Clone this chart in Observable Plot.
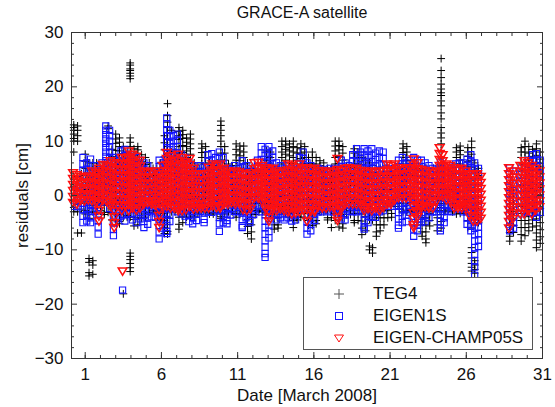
<!DOCTYPE html>
<html><head><meta charset="utf-8">
<script src="https://cdn.jsdelivr.net/npm/d3@7"></script>
<script src="https://cdn.jsdelivr.net/npm/@observablehq/plot@0.6"></script>
<style>
html,body{margin:0;padding:0;background:#fff;}
#wrap{position:relative;width:555px;height:407px;font-family:"Liberation Sans",Arial,sans-serif;color:#111;}
#wrap svg{position:absolute;left:0;top:0;}
#legend{position:absolute;left:303px;top:277px;width:228px;height:71px;border:1px solid #555;background:#fff;}
#legend .row{position:absolute;left:0;width:228px;height:22px;}
#legend .row svg{position:absolute;left:29px;top:5px;}
#legend .row span{position:absolute;left:69px;top:1px;font-size:17px;line-height:20px;white-space:nowrap;}
</style></head>
<body><div id="wrap"></div>
<script>
const title = "GRACE-A satellite";
const xLabel = "Date [March 2008]";
const yLabel = "residuals [cm]";
const seriesNames = ["TEG4", "EIGEN1S", "EIGEN-CHAMP05S"];
const xMajor = [1, 6, 11, 16, 21, 26, 31];
const xMinor = [1,2,3,4,5,6,7,8,9,10,11,12,13,14,15,16,17,18,19,20,21,22,23,24,25,26,27,28,29,30,31];
const yMajor = [-30, -20, -10, 0, 10, 20, 30];
const yMinor = [-28,-26,-24,-22,-18,-16,-14,-12,-8,-6,-4,-2,2,4,6,8,12,14,16,18,22,24,26,28];

// each column: [day, residual values...]
const teg4 = [
[0.25,13,12.5,12,11.3,10.5,10,8,3,1.7,0.4,-0.9,-2.2,-3],
[0.5,12.8,12,11,10,3.5,2.2,0.9,-0.4,-1.7,-3,-6.9],
[0.75,4,2.7,1.4,0.1,-1.2,-2.5,-6.9],
[1.0,7.6,6.3,5,3.7,2.4,1.1,-0.2,-1.5,-2.8,-3.4],
[1.25,6,4.7,3.4,2.1,0.8,-0.5,-1.8,-3.1,-4.2,-11.6,-12.3,-14.2,-14.8],
[1.5,6,4.7,3.4,2.1,0.8,-0.5,-1.8,-3,-12,-12.8,-14.5],
[1.75,6,4.7,3.4,2.1,0.8,-0.5,-1.8,-3.1],
[2.0,5,3.7,2.4,1.1,-0.2,-1.5,-2.8],
[2.25,6,4.7,3.4,2.1,0.8,-0.5,-1.8,-3.1,-3.5],
[2.5,12.8,12.3,6,4.7,3.4,2.1,0.8,-0.5,-1.8,-3.1],
[2.75,8.5,7.2,5.9,4.6,3.3,2,0.7,-0.6,-1.9,-3.2,-4.5],
[3.0,11.3,10.4,9.6,8.3,7,5.7,4.4,3.1,1.8,0.5,-0.8,-2.1,-3.4,-4.5],
[3.25,10.6,9.8,9,8.2,6.9,5.6,4.3,3,1.7,0.4,-0.9,-2.2,-3.5,-4.8,-5.2],
[3.5,9,7.7,6.4,5.1,3.8,2.5,1.2,-0.1,-1.4,-2.7,-4,-18.1],
[3.75,8,6.7,5.4,4.1,2.8,1.5,0.2,-1.1,-2.4,-3.7,-4],
[3.95,24.4,24,23.3,23,22.5,22,21.5,10.6,9.8,9,7.7,6.4,5.1,3.8,2.5,1.2,-0.1,-1.4,-2.7,-4,-10.6,-11.2,-11.8,-12.5,-13.3,-14],
[4.2,8.6,7.3,6,4.7,3.4,2.1,0.8,-0.5,-1.8,-3.1,-4.4,-5.6],
[4.45,9,8.4,7.6,6.3,5,3.7,2.4,1.1,-0.2,-1.5,-2.8,-4.1,-5.4],
[4.7,7.5,6.2,4.9,3.6,2.3,1,-0.3,-1.6,-2.9,-4.2],
[4.95,7,5.7,4.4,3.1,1.8,0.5,-0.8,-2.1,-3.4,-4],
[5.2,6,4.7,3.4,2.1,0.8,-0.5,-1.8,-3.1],
[5.45,5,3.7,2.4,1.1,-0.2,-1.5,-2.8],
[5.7,5,3.7,2.4,1.1,-0.2,-1.5,-2.8,-3],
[5.95,6,4.7,3.4,2.1,0.8,-0.5,-1.8,-3.1,-4.4],
[6.2,11,9.7,8.4,7.1,5.8,4.5,3.2,1.9,0.6,-0.7,-2,-3.3,-4.6,-5.9,-7],
[6.4,16.9,14.7,13.5,12.5,11.6,10.3,9,7.7,6.4,5.1,3.8,2.5,1.2,-0.1,-1.4,-2.7,-4,-5.3,-6.6,-7.1],
[6.65,12,8,6.7,5.4,4.1,2.8,1.5,0.2,-1.1,-2.4,-3],
[6.9,8,6.7,5.4,4.1,2.8,1.5,0.2,-1.1,-2.4,-3],
[7.15,12.5,11.8,11,10.3,9,7.7,6.4,5.1,3.8,2.5,1.2,-0.1,-1.4,-2.7,-4,-5.3,-6.2],
[7.4,12,11.2,10.5,9.2,7.9,6.6,5.3,4,2.7,1.4,0.1,-1.2,-2.5,-3.8,-5],
[7.65,10.6,9.8,9,8.2,7,5.7,4.4,3.1,1.8,0.5,-0.8,-2.1,-3.4,-4],
[7.9,11.3,10.4,9.5,8.6,7.6,6.3,5,3.7,2.4,1.1,-0.2,-1.5,-2.8,-4],
[8.15,6,4.7,3.4,2.1,0.8,-0.5,-1.8,-3.1,-3.8],
[8.4,5,3.7,2.4,1.1,-0.2,-1.5,-2.8,-3.4],
[8.65,9.5,8.7,7.9,7,5.8,4.5,3.2,1.9,0.6,-0.7,-2,-3],
[8.9,9,8,7,5.8,4.5,3.2,1.9,0.6,-0.7,-2,-3],
[9.15,6,4.7,3.4,2.1,0.8,-0.5,-1.8,-3.1,-3.4],
[9.4,5.5,4.2,2.9,1.6,0.3,-1,-2.3,-3.4],
[9.65,6,4.7,3.4,2.1,0.8,-0.5,-1.8,-3.1],
[9.9,13.7,12.9,12,11,10,9,7.8,6.5,5.2,3.9,2.6,1.3,0,-1.3,-2.6,-3.9,-4.2],
[10.15,9,7.8,6.5,5.2,3.9,2.6,1.3,0,-1.3,-2.6,-3.4],
[10.4,5.8,4.5,3.3,2,0.7,-0.6,-1.9,-3],
[10.65,5.5,4.2,2.9,1.6,0.3,-1,-2.3,-3],
[10.9,9.5,8.5,7.5,6.5,5.5,4.5,3.2,1.9,0.6,-0.7,-2,-3.3,-4],
[11.15,9.1,8.2,7.3,6.4,5,3.7,2.4,1.1,-0.2,-1.5,-2.8,-3.5],
[11.4,9.1,8,7,5.8,4.5,3.2,1.9,0.6,-0.7,-2,-3],
[11.65,6,4.7,3.4,2.1,0.8,-0.5,-1.8,-3.1,-4.4,-5.7,-7],
[11.9,5,3.7,2.4,1.1,-0.2,-1.5,-2.8,-4.1,-5.4,-6.7,-8],
[12.15,5,3.7,2.4,1.1,-0.2,-1.5,-2.8,-3.5],
[12.4,4,2.7,1.4,0.1,-1.2,-2.5,-3],
[12.65,5,3.7,2.4,1.1,-0.2,-1.5,-2.8,-3],
[12.9,8.2,7.2,6.4,5.1,3.8,2.5,1.2,-0.1,-1.4,-2.7,-3],
[13.15,8,7,5.8,4.5,3.2,1.9,0.6,-0.7,-2,-3.3],
[13.4,5,3.7,2.4,1.1,-0.2,-1.5,-2.8,-4.1,-5.4,-6.2],
[13.65,5,3.7,2.4,1.1,-0.2,-1.5,-2.8,-4.1,-5.4,-6],
[13.9,10,9,8,7,5.8,4.5,3.2,1.9,0.6,-0.7,-2,-3],
[14.15,10,9.3,8.5,7.6,6.5,5.2,3.9,2.6,1.3,0,-1.3,-2.6,-3.3],
[14.4,9.5,8.8,8.2,7.3,6,4.7,3.4,2.1,0.8,-0.5,-1.8,-3.1,-4],
[14.65,10,9,8,7,5.8,4.5,3.2,1.9,0.6,-0.7,-2,-3.3,-4.6,-5.9],
[14.9,8.8,7.8,6.5,5.2,3.9,2.6,1.3,0,-1.3,-2.6,-3.9,-4.5],
[15.15,9.5,8.6,7.8,6.8,5.8,4.5,3.2,1.9,0.6,-0.7,-2,-3.3,-4],
[15.4,9,8,7,5.8,4.5,3.2,1.9,0.6,-0.7,-2,-3.3,-4],
[15.65,7,5.8,4.5,3.2,1.9,0.6,-0.7,-2,-3.3,-4.6,-5.5],
[15.9,8,7,5.8,4.5,3.2,1.9,0.6,-0.7,-2,-3.3,-4.6,-5.5],
[16.15,7,5.8,4.5,3.2,1.9,0.6,-0.7,-2,-3.3,-4.6,-5.2],
[16.4,6.4,5.5,4.5,3.2,1.9,0.6,-0.7,-2,-3],
[16.65,6,4.7,3.4,2.1,0.8,-0.5,-1.8,-3],
[16.9,5,3.7,2.4,1.1,-0.2,-1.5,-2.8,-4.1,-4.5],
[17.15,5,3.7,2.4,1.1,-0.2,-1.5,-2.8,-4.1,-5.9],
[17.4,10,9.1,8.2,7,5.8,4.5,3.2,1.9,0.6,-0.7,-2,-3.3,-4.6],
[17.65,10,9.2,8.4,7.2,5.9,4.6,3.3,2,0.7,-0.6,-1.9,-3.2,-4.5,-5.8],
[17.9,9,7.8,6.5,5.2,3.9,2.6,1.3,0,-1.3,-2.6,-3.9,-5.2,-6],
[18.15,5.5,4.2,2.9,1.6,0.3,-1,-2.3,-3.5],
[18.4,5,3.7,2.4,1.1,-0.2,-1.5,-2.8,-3.5],
[18.65,8.6,7.8,7,5.8,4.5,3.2,1.9,0.6,-0.7,-2,-3.3,-4.6,-5],
[18.9,8,7,5.8,4.5,3.2,1.9,0.6,-0.7,-2,-3.3,-4.6],
[19.15,7,5.7,4.4,3.1,1.8,0.5,-0.8,-2.1,-3.4,-4.7,-6,-7.2],
[19.4,6.5,5.2,3.9,2.6,1.3,0,-1.3,-2.6,-3.9,-5.2,-6.5],
[19.65,6,4.7,3.4,2.1,0.8,-0.5,-1.8,-3.1,-4.4,-9.3,-10],
[19.85,5.5,4.2,2.9,1.6,0.3,-1,-2.3,-3.6,-4.5,-9.6,-10.6],
[20.1,5,3.7,2.4,1.1,-0.2,-1.5,-2.8,-4.1,-5.4,-6.7,-7.5],
[20.35,5,3.7,2.4,1.1,-0.2,-1.5,-2.8,-4.1,-5.4,-6.5],
[20.6,5,3.7,2.4,1.1,-0.2,-1.5,-2.8,-4.1,-5.4],
[20.85,5,3.7,2.4,1.1,-0.2,-1.5,-2.8,-4.1],
[21.1,4.5,3.2,1.9,0.6,-0.7,-2,-3.3,-4],
[21.35,5,3.7,2.4,1.1,-0.2,-1.5,-2],
[21.6,5,3.7,2.4,1.1,-0.2,-1.5,-2.5],
[21.85,9.5,8.7,7.9,7,5.8,4.5,3.2,1.9,0.6,-0.7,-2,-3],
[22.1,9,8,7,6.4,5.1,3.8,2.5,1.2,-0.1,-1.4,-2.7,-3],
[22.35,5,3.7,2.4,1.1,-0.2,-1.5,-2.8,-3],
[22.6,5,3.7,2.4,1.1,-0.2,-1.5,-2.8,-3],
[22.85,5,3.7,2.4,1.1,-0.2,-1.5,-2.8,-3.3],
[23.1,5,3.7,2.4,1.1,-0.2,-1.5,-2.8,-4.1,-5.4,-6.7,-7.5],
[23.35,5,3.7,2.4,1.1,-0.2,-1.5,-2.8,-4.1,-5.4,-6.7,-8,-8.7],
[23.6,4.5,3.2,1.9,0.6,-0.7,-2,-3.3,-4.6,-5.6],
[23.85,5,3.7,2.4,1.1,-0.2,-1.5,-2.8,-3],
[24.1,5,3.7,2.4,1.1,-0.2,-1.5,-2.8,-4.1,-5.4,-6.5],
[24.35,25.2,23,21.7,20.5,19.6,18.9,18.4,17.4,16.5,15.2,14.1,12.5,11.5,10.6,9.5,8.2,6.9,5.6,4.3,3,1.7,0.4,-0.9,-2.2,-3.5,-4.8,-6],
[24.6,5,3.7,2.4,1.1,-0.2,-1.5,-2.8,-3],
[24.85,5,3.7,2.4,1.1,-0.2,-1.5,-2.5],
[25.1,5,3.7,2.4,1.1,-0.2,-1.5,-2.8,-3],
[25.35,8.8,8,7,5.8,4.5,3.2,1.9,0.6,-0.7,-2,-3.4],
[25.6,9.1,8.3,7.5,6.5,5.8,4.5,3.2,1.9,0.6,-0.7,-2,-3.3],
[25.85,5,3.7,2.4,1.1,-0.2,-1.5,-2.8,-3],
[26.1,8.8,8,7.2,6.3,5.4,4.5,3.2,1.9,0.6,-0.7,-2,-3.3,-4.6,-5.9],
[26.35,10,8.8,7.6,6.4,5.2,4,2.7,1.4,0.1,-1.2,-2.5,-3.8,-5.1,-6,-9.6,-10.5,-11.5,-12.5,-13.2,-13.9],
[26.55,6,4.7,3.4,2.1,0.8,-0.5,-1.8,-3.1,-4.4,-12,-12.8,-13.6,-14.3],
[26.8,5,3.7,2.4,1.1,-0.2,-1.5,-2.8,-4.1,-5],
[28.85,1,-0.3,-1.6,-2.9,-4.2,-5.5,-6.8,-7.5,-8.4],
[29.1,1,-0.3,-1.6,-2.9,-4.2,-5.5,-6.8],
[29.6,8.8,8,7,5.8,4.5,3.2,1.9,0.6,-0.7,-2,-3.3,-4.6,-5.9,-7.2,-8.4],
[29.85,10,9,8,7,5.8,4.5,3.2,1.9,0.6,-0.7,-2,-3.3,-4.6,-5.9,-7.4],
[30.1,9,7.8,6.5,5.2,3.9,2.6,1.3,0,-1.3,-2.6,-3.9,-5.2,-6.5],
[30.35,8.5,7.2,5.9,4.6,3.3,2,0.7,-0.6,-1.9,-3.2,-4.5,-5.8],
[30.6,9.5,8.6,7.4,6.1,4.8,3.5,2.2,0.9,-0.4,-1.7,-3,-4.3,-5.6,-6.9,-8.2,-9.6],
[30.85,8,6.7,5.4,4.1,2.8,1.5,0.2,-1.1,-2.4,-3.7,-5,-6.3,-7.6,-8.8]
];

const eigen1s = [
[0.3,2,0.8,-0.4,-1.6,-2],
[0.55,1.5,0.3,-0.9,-2.1],
[0.85,7,5.8,4.6,3.4,2.2,1,-0.2,-1.4,-2.6,-3.8,-5],
[1.1,6,4.8,3.6,2.4,1.2,0,-1.2,-2.4,-3.6,-4.7],
[1.35,6.7,5.5,4.3,3.1,1.9,0.7,-0.5,-1.7,-2.9,-4.1,-5],
[1.6,5.5,4.3,3.1,1.9,0.7,-0.5,-1.7,-2.9],
[1.85,5,3.8,2.6,1.4,0.2,-1,-2.2,-3.4,-4.6,-5.8,-7.1],
[2.1,6,4.8,3.6,2.4,1.2,0,-1.2],
[2.35,12.8,12,11.2,10.4,9.6,8.8,8,7.2,6.4,5.6,4.8,4,2.8,1.6,0.4,-0.8],
[2.6,12,11,10,9,8,7,6,4.8,3.6,2.4,1.2,0,-1.2,-2.4],
[2.85,7,5.8,4.6,3.4,2.2,1,-0.2,-1.4,-2.6,-3.8,-5,-6.2,-7.4],
[3.1,6.5,5.3,4.1,2.9,1.7,0.5,-0.7,-1.9,-3.1,-4.3],
[3.35,8.2,7,5.8,4.6,3.4,2.2,1,-0.2,-1.4,-2.6,-3.8],
[3.45,-17.4],
[3.6,8.5,7.3,6.1,4.9,3.7,2.5,1.3,0.1,-1.1,-2.3,-3.5,-4.7],
[3.85,7.5,6.3,5.1,3.9,2.7,1.5,0.3,-0.9,-2.1,-3.3],
[4.1,7.5,6.3,5.1,3.9,2.7,1.5,0.3,-0.9,-2.1,-3.3,-4.5],
[4.35,7,5.8,4.6,3.4,2.2,1,-0.2,-1.4,-2.6,-3.8,-5],
[4.6,6.5,5.3,4.1,2.9,1.7,0.5,-0.7,-1.9,-3.1,-4.3],
[4.85,6,4.8,3.6,2.4,1.2,0,-1.2,-2.4,-3.6,-4.8,-5.9],
[5.1,5.5,4.3,3.1,1.9,0.7,-0.5,-1.7,-2.9,-4.1,-5.3],
[5.35,4.5,3.3,2.1,0.9,-0.3,-1.5,-2.7,-3.9],
[5.6,4,2.8,1.6,0.4,-0.8,-2,-3.2,-4],
[5.85,6.5,5.3,4.1,2.9,1.7,0.5,-0.7,-1.9,-3.1,-4.3,-5.5,-6.7,-8],
[6.1,6,4.8,3.6,2.4,1.2,0,-1.2,-2.4,-3.6,-4.8,-6],
[6.35,14.3,13.2,12.1,11,9.9,8.8,7.7,6.6,5.5,4.4,3.3,2.2,1.1,0,-1.1,-2.2,-3.3,-4.4,-5.5,-6.6,-7],
[6.55,12,10.8,9.6,8.4,7.2,6,4.8,3.6,2.4,1.2,0,-1.2,-2.4,-3.6,-4.8],
[6.8,11,10,9,7.8,6.6,5.4,4.2,3,1.8,0.6,-0.6,-1.8],
[7.05,11.3,10.2,9,7.8,6.6,5.4,4.2,3,1.8,0.6,-0.6,-1.8,-3],
[7.3,7.5,6.3,5.1,3.9,2.7,1.5,0.3,-0.9,-2.1,-3.4],
[7.55,7,5.8,4.6,3.4,2.2,1,-0.2,-1.4,-2.6,-3.8],
[7.8,6,4.8,3.6,2.4,1.2,0,-1.2,-2.4,-3.6,-4.8],
[8.05,5.5,4.3,3.1,1.9,0.7,-0.5,-1.7,-2.9,-4.1,-5.2],
[8.3,5,3.8,2.6,1.4,0.2,-1,-2.2,-3.4,-4.6],
[8.55,5.5,4.3,3.1,1.9,0.7,-0.5,-1.7,-2.9],
[8.8,5.2,4,2.8,1.6,0.4,-0.8,-2,-3.2,-4.4,-5],
[9.05,7.5,6.3,5.1,3.9,2.7,1.5,0.3,-0.9,-2.1,-3],
[9.3,7.7,6.5,5.3,4.1,2.9,1.7,0.5,-0.7,-1.9,-3.1],
[9.55,7,5.8,4.6,3.4,2.2,1,-0.2,-1.4,-2.6],
[9.8,8,6.8,5.6,4.4,3.2,2,0.8,-0.4,-1.6,-2.8,-4,-5.2,-6.6],
[10.05,7,5.8,4.6,3.4,2.2,1,-0.2,-1.4,-2.6,-3.8,-5],
[10.3,5,3.8,2.6,1.4,0.2,-1,-2.2,-3.4,-4.6,-5.2],
[10.55,4.8,3.6,2.4,1.2,0,-1.2,-2.4,-3.6],
[10.8,5.5,4.3,3.1,1.9,0.7,-0.5,-1.7,-2.9],
[11.05,5,3.8,2.6,1.4,0.2,-1,-2.2,-3],
[11.3,6.4,5.2,4,2.8,1.6,0.4,-0.8,-2,-3.2,-4.4,-5.6,-5.9],
[11.55,5.5,4.3,3.1,1.9,0.7,-0.5,-1.7,-2.9,-4.1],
[11.8,5,3.8,2.6,1.4,0.2,-1,-2.2,-3.4,-4.6,-5],
[12.05,4.5,3.3,2.1,0.9,-0.3,-1.5,-2.7,-3.5],
[12.3,6.5,5.3,4.1,2.9,1.7,0.5,-0.7,-1.9],
[12.55,9,7.8,6.6,5.4,4.2,3,1.8,0.6,-0.6,-1.8,-3],
[12.8,8.5,7.3,6.1,4.9,3.7,2.5,1.3,0.1,-1.1,-2.3,-3.5,-4.7,-5.9,-7.1,-8.3,-9.5,-10.7,-11.4],
[13.05,9,7.8,6.6,5.4,4.2,3,1.8,0.6,-0.6,-1.8,-3,-4.2,-5.4,-6.6,-7.8],
[13.3,8.2,7,5.8,4.6,3.4,2.2,1,-0.2,-1.4,-2.6,-3.5],
[13.55,6,4.8,3.6,2.4,1.2,0,-1.2,-2.4,-3.6,-4.5],
[13.8,5.5,4.3,3.1,1.9,0.7,-0.5,-1.7,-2.9,-4.1],
[14.05,5,3.8,2.6,1.4,0.2,-1,-2.2,-3.4,-4.5],
[14.3,5.5,4.3,3.1,1.9,0.7,-0.5,-1.7,-2.9,-4.1],
[14.55,5,3.8,2.6,1.4,0.2,-1,-2.2,-3.4,-4.7],
[14.8,4.8,3.6,2.4,1.2,0,-1.2,-2.4,-3.6,-4.5],
[15.05,7,5.8,4.6,3.4,2.2,1,-0.2,-1.4,-2.6],
[15.3,8,6.8,5.6,4.4,3.2,2,0.8,-0.4,-1.6,-2.5],
[15.55,6,4.8,3.6,2.4,1.2,0,-1.2,-2.4,-3.6,-4.8,-6,-7.1],
[15.8,5.5,4.3,3.1,1.9,0.7,-0.5,-1.7,-2.9,-4.1,-5.3,-6.5],
[16.05,5,3.8,2.6,1.4,0.2,-1,-2.2,-3.4,-4.6],
[16.3,5,3.8,2.6,1.4,0.2,-1,-2.2,-3],
[16.55,4.8,3.6,2.4,1.2,0,-1.2,-2.4,-3],
[16.8,4.5,3.3,2.1,0.9,-0.3,-1.5,-2.7],
[17.05,5,3.8,2.6,1.4,0.2,-1,-2.2,-3],
[17.3,4.8,3.6,2.4,1.2,0,-1.2,-2.4,-3],
[17.55,5,3.8,2.6,1.4,0.2,-1,-2.2,-3.4],
[17.8,6.5,5.3,4.1,2.9,1.7,0.5,-0.7,-1.9,-3.1,-4.3],
[18.05,6,4.8,3.6,2.4,1.2,0,-1.2,-2.4,-3.6,-4.5],
[18.3,5.5,4.3,3.1,1.9,0.7,-0.5,-1.7,-2.9],
[18.55,7.5,6.3,5.1,3.9,2.7,1.5,0.3,-0.9,-2.1,-3],
[18.8,8.6,7.4,6.2,5,3.8,2.6,1.4,0.2,-1,-2.2,-3],
[19.05,8,6.8,5.6,4.4,3.2,2,0.8,-0.4,-1.6,-2.8],
[19.3,8.6,7.4,6.2,5,3.8,2.6,1.4,0.2,-1,-2.2,-3.4,-4.6,-5.8,-6.2],
[19.55,8.2,7,5.8,4.6,3.4,2.2,1,-0.2,-1.4,-2.6,-3.8,-5],
[19.8,8.6,7.4,6.2,5,3.8,2.6,1.4,0.2,-1,-2.2,-3.4,-4],
[20.05,7.8,6.6,5.4,4.2,3,1.8,0.6,-0.6,-1.8,-3,-4],
[20.3,8.2,7,5.8,4.6,3.4,2.2,1,-0.2,-1.4,-2.6,-3],
[20.55,8,6.8,5.6,4.4,3.2,2,0.8,-0.4,-1.6,-2.8],
[20.8,5,3.8,2.6,1.4,0.2,-1,-2],
[21.05,4.8,3.6,2.4,1.2,0,-1.2,-2],
[21.3,5,3.8,2.6,1.4,0.2,-1,-2],
[21.55,6.5,5.3,4.1,2.9,1.7,0.5,-0.7,-1.9,-3.1,-4.3,-5.5,-6],
[21.8,7,5.8,4.6,3.4,2.2,1,-0.2,-1.4,-2.6,-3.8,-5],
[22.05,6,4.8,3.6,2.4,1.2,0,-1.2,-2.4,-3.6,-4.8],
[22.3,6.5,5.3,4.1,2.9,1.7,0.5,-0.7,-1.9,-3.1],
[22.55,7,5.8,4.6,3.4,2.2,1,-0.2,-1.4,-2.6,-3.8,-5,-6.2,-7.5],
[22.8,6.5,5.3,4.1,2.9,1.7,0.5,-0.7,-1.9,-3.1,-4.3,-5.5,-6.5],
[23.05,6.5,5.3,4.1,2.9,1.7,0.5,-0.7,-1.9,-3.1,-4.3,-5],
[23.3,6,4.8,3.6,2.4,1.2,0,-1.2,-2.4,-3.6,-4.8],
[23.55,5.5,4.3,3.1,1.9,0.7,-0.5,-1.7,-2.9,-4.1],
[23.8,5,3.8,2.6,1.4,0.2,-1,-2.2,-3],
[24.05,4.8,3.6,2.4,1.2,0,-1.2,-2.4,-3],
[24.3,6,4.8,3.6,2.4,1.2,0,-1.2,-2.4,-3.6,-4.8,-6,-6.5],
[24.55,5.5,4.3,3.1,1.9,0.7,-0.5,-1.7,-2.9,-4.1,-5],
[24.8,5.5,4.3,3.1,1.9,0.7,-0.5,-1.7,-2.9],
[25.05,5,3.8,2.6,1.4,0.2,-1,-2.2,-3],
[25.3,5.8,4.6,3.4,2.2,1,-0.2,-1.5],
[25.55,6,4.8,3.6,2.4,1.2,0,-1.2,-2.5],
[25.8,6,4.8,3.6,2.4,1.2,0,-1.2,-2.4,-3],
[26.05,6.7,5.5,4.3,3.1,1.9,0.7,-0.5,-1.7,-2.9,-4.1,-5.3],
[26.3,7.5,6.3,5.1,3.9,2.7,1.5,0.3,-0.9,-2.1,-3.3,-4.5,-5.7,-6.5],
[26.55,6,4.8,3.6,2.4,1.2,0,-1.2,-2.4,-3.6,-4.8,-6,-7.2,-8.4,-9.6,-10.8,-12,-13.2,-14.7],
[26.8,5,3.8,2.6,1.4,0.2,-1,-2.2,-3.4,-4.6,-5.8,-7,-8.2,-9.4],
[28.85,5.1,3.9,2.7,1.5,0.3,-0.9,-2.1,-3.3,-4.5,-5.7,-6.5],
[29.1,4.5,3.3,2.1,0.9,-0.3,-1.5,-2.7,-3.9,-5.1,-6],
[29.6,5,3.8,2.6,1.4,0.2,-1,-2.2,-3.4],
[29.85,5,3.8,2.6,1.4,0.2,-1,-2.2,-3],
[30.1,6.5,5.3,4.1,2.9,1.7,0.5,-0.7,-1.9,-3.1],
[30.35,7.5,6.3,5.1,3.9,2.7,1.5,0.3,-0.9,-2.1,-3.3],
[30.6,7.7,6.5,5.3,4.1,2.9,1.7,0.5,-0.7,-1.9,-3.1,-4],
[30.85,6.5,5.3,4.1,2.9,1.7,0.5,-0.7,-1.9,-3.1]
];

const eigenChamp05s = [
[0.2,4.2,3.1,2,0.9,-0.2,-1.3],
[0.45,3.8,2.7,1.6,0.5,-0.6,-1.6],
[0.7,3.5,2.4,1.3,0.2,-0.9],
[0.95,3.3,2.2,1.1,0,-1],
[1.2,3.6,2.5,1.4,0.3,-0.8],
[1.45,4.5,3.4,2.3,1.2,0.1,-1],
[1.7,4.2,3.1,2,0.9,-0.2,-1.3],
[1.9,5,3.9,2.8,1.7,0.6,-0.5,-1.6,-2.7,-3.8,-4.7],
[2.15,5.7,4.6,3.5,2.4,1.3,0.2,-0.9],
[2.4,5.4,4.3,3.2,2.1,1,-0.1,-1.1],
[2.65,6.4,5.3,4.2,3.1,2,0.9,-0.2,-1.3,-2],
[2.9,6,4.9,3.8,2.7,1.6,0.5,-0.6,-1.7,-2.8,-3.9,-5,-5.9],
[3.15,5.8,4.7,3.6,2.5,1.4,0.3,-0.8,-1.9],
[3.4,7,5.9,4.8,3.7,2.6,1.5,0.4,-0.7,-1.8,-2.8],
[3.45,-13.9],
[3.65,6.8,5.7,4.6,3.5,2.4,1.3,0.2,-0.9,-2],
[3.85,8.2,7.1,6,4.9,3.8,2.7,1.6,0.5,-0.6,-1.7,-2.8],
[4.1,7.6,6.5,5.4,4.3,3.2,2.1,1,-0.1,-1.2,-2.3],
[4.35,7.2,6.1,5,3.9,2.8,1.7,0.6,-0.5,-1.6,-2.7],
[4.6,6.5,5.4,4.3,3.2,2.1,1,-0.1,-1.2,-2.3],
[4.85,4.5,3.4,2.3,1.2,0.1,-1,-1.6],
[5.1,4.2,3.1,2,0.9,-0.2,-1.3],
[5.35,4.4,3.3,2.2,1.1,0,-1.1,-1.6],
[5.6,4.5,3.4,2.3,1.2,0.1,-1,-1.8],
[5.85,4,2.9,1.8,0.7,-0.4,-1.5,-2.6,-3.7,-4.8,-5.9],
[6.1,5.5,4.4,3.3,2.2,1.1,0,-1.1,-2.2],
[6.35,7.9,6.8,5.7,4.6,3.5,2.4,1.3,0.2,-0.9,-2],
[6.6,7.3,6.2,5.1,4,2.9,1.8,0.7,-0.4,-1.5,-2.3],
[6.85,6.5,5.4,4.3,3.2,2.1,1,-0.1,-1.2,-2.3],
[7.1,7.6,6.5,5.4,4.3,3.2,2.1,1,-0.1,-1.2,-2.3,-2.8],
[7.35,7,5.9,4.8,3.7,2.6,1.5,0.4,-0.7,-1.8,-2.8],
[7.6,6.2,5.1,4,2.9,1.8,0.7,-0.4,-1.5,-2.6],
[7.85,6.8,5.7,4.6,3.5,2.4,1.3,0.2,-0.9,-2],
[8.1,5,3.9,2.8,1.7,0.6,-0.5,-1.6,-2.5],
[8.35,4,2.9,1.8,0.7,-0.4,-1.5,-2.3],
[8.6,3.8,2.7,1.6,0.5,-0.6,-1.7,-2.3],
[8.85,4,2.9,1.8,0.7,-0.4,-1.5,-2.3],
[9.1,5.2,4.1,3,1.9,0.8,-0.3,-1.4,-2.3],
[9.35,5.8,4.7,3.6,2.5,1.4,0.3,-0.8,-1.9],
[9.6,5.5,4.4,3.3,2.2,1.1,0,-1.1,-2.2],
[9.85,5.8,4.7,3.6,2.5,1.4,0.3,-0.8,-1.9,-2.3],
[10.1,5,3.9,2.8,1.7,0.6,-0.5,-1.6],
[10.35,4.5,3.4,2.3,1.2,0.1,-1,-1.6],
[10.6,4.2,3.1,2,0.9,-0.2,-1.3],
[10.85,4.5,3.4,2.3,1.2,0.1,-1,-1.6],
[11.1,4.3,3.2,2.1,1,-0.1,-1.2],
[11.35,4,2.9,1.8,0.7,-0.4,-1.5,-2.6],
[11.6,3.8,2.7,1.6,0.5,-0.6,-1.7,-2.8],
[11.85,4.2,3.1,2,0.9,-0.2,-1.3,-2.4],
[12.1,6,4.9,3.8,2.7,1.6,0.5,-0.4],
[12.35,6.1,5,3.9,2.8,1.7,0.6,-0.5],
[12.6,5.5,4.4,3.3,2.2,1.1,0,-1.1],
[12.85,5.1,4,2.9,1.8,0.7,-0.4,-1.5,-2.5],
[13.05,4.8,3.7,2.6,1.5,0.4,-0.7,-1.8,-2.9,-4,-4.7],
[13.3,5,3.9,2.8,1.7,0.6,-0.5,-1.6,-2.5],
[13.55,4.5,3.4,2.3,1.2,0.1,-1,-2.1,-2.8],
[13.8,4.2,3.1,2,0.9,-0.2,-1.3,-2.4],
[14.05,4.5,3.4,2.3,1.2,0.1,-1,-2.1,-2.8],
[14.3,5.8,4.7,3.6,2.5,1.4,0.3,-0.8,-1.9,-3],
[14.55,5.5,4.4,3.3,2.2,1.1,0,-1.1,-2.2,-3.4],
[14.8,5.2,4.1,3,1.9,0.8,-0.3,-1.4,-2.5,-3.2],
[15.05,5.8,4.7,3.6,2.5,1.4,0.3,-0.8,-1.9,-3],
[15.3,5,3.9,2.8,1.7,0.6,-0.5,-1.6,-2.7],
[15.55,5.1,4,2.9,1.8,0.7,-0.4,-1.5,-2.6,-3.7,-4.7],
[15.8,4.8,3.7,2.6,1.5,0.4,-0.7,-1.8,-2.9],
[16.05,5,3.9,2.8,1.7,0.6,-0.5,-1.6,-2.7,-3],
[16.3,4.6,3.5,2.4,1.3,0.2,-0.9,-2],
[16.55,4.5,3.4,2.3,1.2,0.1,-1,-2.1,-2.3],
[16.8,4.2,3.1,2,0.9,-0.2,-1.3,-2.3],
[17.05,4.5,3.4,2.3,1.2,0.1,-1,-2.1],
[17.3,4.3,3.2,2.1,1,-0.1,-1.2,-2.3],
[17.55,6.8,4.8,3.7,2.6,1.5,0.4,-0.7,-1.8,-2.9,-4,-4.6],
[17.8,4.6,3.5,2.4,1.3,0.2,-0.9,-2,-2.5],
[18.05,5,3.9,2.8,1.7,0.6,-0.5,-1.6],
[18.3,5.1,4,2.9,1.8,0.7,-0.4,-1.5],
[18.55,4.8,3.7,2.6,1.5,0.4,-0.7,-1.6],
[18.8,5,3.9,2.8,1.7,0.6,-0.5,-1.6],
[19.05,4.6,3.5,2.4,1.3,0.2,-0.9,-1.6],
[19.3,4.5,3.4,2.3,1.2,0.1,-1,-2.1,-2.8],
[19.55,4.2,3.1,2,0.9,-0.2,-1.3,-2.4],
[19.8,4.5,3.4,2.3,1.2,0.1,-1,-2.1,-2.8],
[20.05,4.3,3.2,2.1,1,-0.1,-1.2,-2.3],
[20.3,4.5,3.4,2.3,1.2,0.1,-1,-2.1,-2.8],
[20.55,4.4,3.3,2.2,1.1,0,-1.1,-2.2],
[20.8,5.8,4.7,3.6,2.5,1.4,0.3,-0.8,-1.6],
[21.05,5.5,4.4,3.3,2.2,1.1,0,-1.1,-1.6],
[21.3,5.8,4.7,3.6,2.5,1.4,0.3,-0.8],
[21.55,5.1,4,2.9,1.8,0.7,-0.4],
[21.8,4.8,3.7,2.6,1.5,0.4,-0.4],
[22.05,5,3.9,2.8,1.7,0.6,-0.5],
[22.3,5.1,4,2.9,1.8,0.7,-0.4],
[22.55,6.7,5.6,4.5,3.4,2.3,1.2,0.1,-1,-2.1,-3.2,-4.3,-5.4,-5.9],
[22.8,6,4.9,3.8,2.7,1.6,0.5,-0.6,-1.7,-2.8,-3.9],
[23.05,4.8,3.7,2.6,1.5,0.4,-0.7,-1.8,-2.3],
[23.3,4.5,3.4,2.3,1.2,0.1,-1,-2.1],
[23.55,4.6,3.5,2.4,1.3,0.2,-0.9,-2,-2.3],
[23.8,4.2,3.1,2,0.9,-0.2,-1.3,-2.3],
[24.05,4.5,3.4,2.3,1.2,0.1,-1],
[24.25,8.8,7.7,6.6,5.5,4.4,3.3,2.2,1.1,0],
[24.45,7.5,6.4,5.3,4.2,3.1,2,0.9,-0.2],
[24.7,5.8,4.7,3.6,2.5,1.4,0.3,-0.8],
[24.95,5.5,4.4,3.3,2.2,1.1,0,-1],
[25.2,5.1,4,2.9,1.8,0.7,-0.4,-1.5,-2.3],
[25.45,4.8,3.7,2.6,1.5,0.4,-0.7,-1.8,-2.3],
[25.7,5,3.9,2.8,1.7,0.6,-0.5,-1.6,-2.3],
[25.95,4.5,3.4,2.3,1.2,0.1,-1,-2.1],
[26.2,4,2.9,1.8,0.7,-0.4,-1.5,-2.6,-3.7],
[26.45,3.8,2.7,1.6,0.5,-0.6,-1.7,-2.8,-3.9,-4.7],
[26.7,4,2.9,1.8,0.7,-0.4,-1.5,-2.6,-3.7,-4.7],
[26.95,3.5,2.4,1.3,0.2,-0.9,-2,-3.1,-4.2],
[28.8,5.1,4,2.9,1.8,0.7,-0.4,-1.5,-2.6,-3.7,-4.8,-6],
[29.05,4.5,3.4,2.3,1.2,0.1,-1,-2.1,-3.2,-4.3],
[29.55,5.5,4.4,3.3,2.2,1.1,0,-1.1,-2.2,-3.4],
[29.8,6.4,5.3,4.2,3.1,2,0.9,-0.2,-1.3,-2.4,-3.4],
[30.05,6,4.9,3.8,2.7,1.6,0.5,-0.6,-1.7,-2.8],
[30.3,5.5,4.4,3.3,2.2,1.1,0,-1.1,-2.2,-3.4],
[30.55,5,3.9,2.8,1.7,0.6,-0.5,-1.6,-2.7],
[30.8,4.5,3.4,2.3,1.2,0.1,-1,-2.1]
];

const colors = ["#000000", "#1414ff", "#ff1010"];

// symbols (stroke only)
const plusSym = {draw(c, size) { const r = Math.sqrt(size / Math.PI) * 1.15; c.moveTo(-r, 0); c.lineTo(r, 0); c.moveTo(0, -r); c.lineTo(0, r); }};
const squareSym = {draw(c, size) { const r = Math.sqrt(size / Math.PI); c.rect(-r, -r, 2 * r, 2 * r); }};
const triDownSym = {draw(c, size) { const r = Math.sqrt(size / Math.PI); c.moveTo(-1.15 * r, -0.8 * r); c.lineTo(1.15 * r, -0.8 * r); c.lineTo(0, 1.1 * r); c.closePath(); }};
const symbols = [plusSym, squareSym, triDownSym];
const radii = [3.4, 3.1, 3.8];
const widths = [1, 1.1, 1.5];

const toPoints = cols => cols.flatMap(([d, ...vs]) => vs.map(v => ({day: d, value: v})));
const seriesData = [teg4, eigen1s, eigenChamp05s].map(toPoints);

const axisStroke = "#333";
const chart = Plot.plot({
  width: 555,
  height: 407,
  marginLeft: 71,
  marginRight: 13,
  marginTop: 32,
  marginBottom: 49,
  style: {fontFamily: "'Liberation Sans', Arial, sans-serif", background: "white", color: "#111"},
  x: {domain: [0.1, 31]},
  y: {domain: [-30, 30]},
  marks: [
    ...seriesData.map((data, i) => Plot.dot(data, {x: "day", y: "value", symbol: symbols[i], r: radii[i], stroke: colors[i], fill: "none", strokeWidth: widths[i]})),
    Plot.frame({stroke: axisStroke, strokeWidth: 1}),
    // inward ticks
    Plot.axisX({ticks: xMinor, anchor: "bottom", tickSize: -3, fill: "none", stroke: axisStroke, label: null}),
    Plot.axisX({ticks: xMajor, anchor: "bottom", tickSize: -6, fill: "none", stroke: axisStroke, label: null}),
    Plot.axisX({ticks: xMinor, anchor: "top", tickSize: -3, fill: "none", stroke: axisStroke, label: null}),
    Plot.axisX({ticks: xMajor, anchor: "top", tickSize: -6, fill: "none", stroke: axisStroke, label: null}),
    Plot.axisY({ticks: yMinor, anchor: "left", tickSize: -3, fill: "none", stroke: axisStroke, label: null}),
    Plot.axisY({ticks: yMajor, anchor: "left", tickSize: -6, fill: "none", stroke: axisStroke, label: null}),
    Plot.axisY({ticks: yMinor, anchor: "right", tickSize: -3, fill: "none", stroke: axisStroke, label: null}),
    Plot.axisY({ticks: yMajor, anchor: "right", tickSize: -6, fill: "none", stroke: axisStroke, label: null}),
    // tick labels
    Plot.axisX({ticks: xMajor, anchor: "bottom", tickSize: 0, tickPadding: 9, fontSize: 17, fill: "#111", label: null}),
    Plot.axisY({ticks: yMajor, anchor: "left", tickSize: 0, tickPadding: 8, fontSize: 17, fill: "#111", label: null}),
    // titles
    Plot.text([title], {text: d => d, frameAnchor: "top", lineAnchor: "middle", dx: -5, dy: -20, fontSize: 16, fill: "#111"}),
    Plot.text([xLabel], {text: d => d, frameAnchor: "bottom", lineAnchor: "middle", dy: 37, fontSize: 17, fill: "#111"}),
    Plot.text([yLabel], {text: d => d, frameAnchor: "left", textAnchor: "middle", lineAnchor: "middle", dx: -49, rotate: -90, fontSize: 17, fill: "#111"})
  ]
});

const wrap = document.getElementById("wrap");
wrap.appendChild(chart);

// legend
const legend = document.createElement("div");
legend.id = "legend";
const symPaths = [
  '<path d="M1,6H11M6,1V11" stroke="#555" fill="none"/>',
  '<rect x="2.5" y="2.5" width="7" height="7" stroke="' + colors[1] + '" fill="none"/>',
  '<path d="M1.5,3H10.5L6,10Z" stroke="' + colors[2] + '" fill="none"/>'
];
const rowTops = [5, 27, 49];
seriesNames.forEach((name, i) => {
  const row = document.createElement("div");
  row.className = "row";
  row.style.top = rowTops[i] + "px";
  row.innerHTML = '<svg width="12" height="12" viewBox="0 0 12 12">' + symPaths[i] + '</svg><span>' + name + '</span>';
  legend.appendChild(row);
});
wrap.appendChild(legend);
</script>
</body></html>
